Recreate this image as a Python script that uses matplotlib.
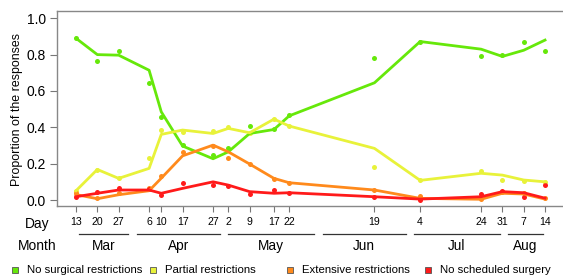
import datetime as dt
import numpy as np
import matplotlib
matplotlib.use('Agg')
import matplotlib.pyplot as plt
from matplotlib.lines import Line2D

plt.rcParams['font.family'] = ['Liberation Sans', 'DejaVu Sans']

# survey dates (2020)
dates = ['2020-03-13', '2020-03-20', '2020-03-27', '2020-04-06', '2020-04-10',
         '2020-04-17', '2020-04-27', '2020-05-02', '2020-05-09', '2020-05-17',
         '2020-05-22', '2020-06-19', '2020-07-04', '2020-07-24', '2020-07-31',
         '2020-08-07', '2020-08-14']
dates = [dt.datetime.strptime(d, '%Y-%m-%d') for d in dates]

# observed proportions (dots)
pts_none = [0.89, 0.764, 0.82, 0.645, 0.458, 0.30, 0.247, 0.287, 0.408, 0.39,
            0.465, 0.782, 0.872, 0.793, 0.80, 0.868, 0.82]
pts_part = [0.051, 0.165, 0.12, 0.229, 0.386, 0.375, 0.379, 0.401, 0.37, 0.445,
            0.407, 0.183, 0.108, 0.161, 0.108, 0.104, 0.10]
pts_ext  = [0.037, 0.013, 0.04, 0.068, 0.132, 0.265, 0.297, 0.232, 0.196, 0.117,
            0.095, 0.055, 0.022, 0.007, 0.046, 0.04, 0.01]
pts_nosc = [0.018, 0.042, 0.064, 0.059, 0.029, 0.093, 0.081, 0.077, 0.033, 0.053,
            0.04, 0.016, 0.0, 0.035, 0.05, 0.015, 0.084]

# smoothed estimates (lines)
fit_none = [0.89, 0.80, 0.797, 0.714, 0.485, 0.297, 0.227, 0.265, 0.366, 0.388,
            0.463, 0.645, 0.872, 0.83, 0.79, 0.824, 0.88]
fit_part = [0.051, 0.168, 0.119, 0.174, 0.361, 0.385, 0.366, 0.394, 0.37, 0.445,
            0.407, 0.284, 0.108, 0.147, 0.137, 0.11, 0.10]
fit_ext  = [0.03, 0.007, 0.029, 0.051, 0.12, 0.243, 0.302, 0.265, 0.198, 0.119,
            0.095, 0.055, 0.009, 0.004, 0.037, 0.033, 0.005]
fit_nosc = [0.018, 0.037, 0.055, 0.055, 0.037, 0.064, 0.10, 0.082, 0.046, 0.037,
            0.04, 0.018, 0.005, 0.018, 0.046, 0.04, 0.01]

labels = ['No surgical restrictions', 'Partial restrictions',
          'Extensive restrictions', 'No scheduled surgery']
colors = ['#66e80a', '#e8f23a', '#ff8a1c', '#ff1a1a']
pts = [pts_none, pts_part, pts_ext, pts_nosc]
fits = [fit_none, fit_part, fit_ext, fit_nosc]

months = ['Mar', 'Apr', 'May', 'Jun', 'Jul', 'Aug']

W, H = 563, 277
fig = plt.figure(figsize=(W / 100, H / 100), dpi=100)
ax = fig.add_axes([57 / W, 1 - 206 / H, 1 - 57 / W, 195 / H])

for p, c in zip(pts, colors):
    ax.plot(dates, p, 'o', color=c, ms=3.6, mew=0, zorder=2)
for f, c in zip(fits, colors):
    ax.plot(dates, f, '-', color=c, lw=2.0, zorder=3)

d0 = dates[0]
day = dt.timedelta(days=1)
ax.set_xlim(d0 - 6.24 * day, d0 + 159.9 * day)
ax.set_ylim(-0.033, 1.04)

yt = np.arange(0, 1.01, 0.2)
ax.set_yticks(yt)
ax.set_yticklabels(['%.1f' % v for v in yt], fontsize=10)
ax.set_xticks(dates)
ax.set_xticklabels([str(d.day) for d in dates], fontsize=7.6)
ax.tick_params(axis='y', length=5, width=0.8, color='#777777', pad=3)
ax.tick_params(axis='x', length=4.3, width=0.8, color='#777777', pad=3.5)
fig.text(17 / W, 1 - 109 / H, 'Proportion of the responses', rotation=90,
         ha='center', va='center', fontsize=8.9)

for s in ['left', 'top', 'bottom']:
    ax.spines[s].set_color('#888888')
    ax.spines[s].set_linewidth(1.0)
ax.spines['right'].set_visible(False)

fig.text(37 / W, 1 - 224 / H, 'Day', ha='center', va='center', fontsize=9.9)
fig.text(37 / W, 1 - 246 / H, 'Month', ha='center', va='center', fontsize=9.9)

# month bars and names under the day ticks
tr = ax.get_xaxis_transform()
for i, m in enumerate(months):
    first = dt.datetime(2020, 3 + i, 1)
    last = dt.datetime(2020, 4 + i, 1) - day
    start = max(first, dates[0]) + day
    end = min(last, dates[-1]) - 0.8 * day
    ax.plot([start, end], [-0.144, -0.144], transform=tr, color='#333333',
            lw=0.9, clip_on=False)
    ax.text(start + (end - start) / 2, -0.205, m, transform=tr, ha='center',
            va='center', fontsize=9.8, clip_on=False)

# legend along the bottom
leg_x = [15, 153, 290, 428]
for x, c, lab in zip(leg_x, colors, labels):
    fig.add_artist(Line2D([x / W], [1 - 270 / H], marker='s', ls='none',
                          ms=3.8, mfc=c, mec='#555555', mew=0.6,
                          transform=fig.transFigure))
    fig.text((x + 12) / W, 1 - 270 / H, lab, ha='left', va='center',
             fontsize=8.2)

fig.savefig('out.png', dpi=100)
